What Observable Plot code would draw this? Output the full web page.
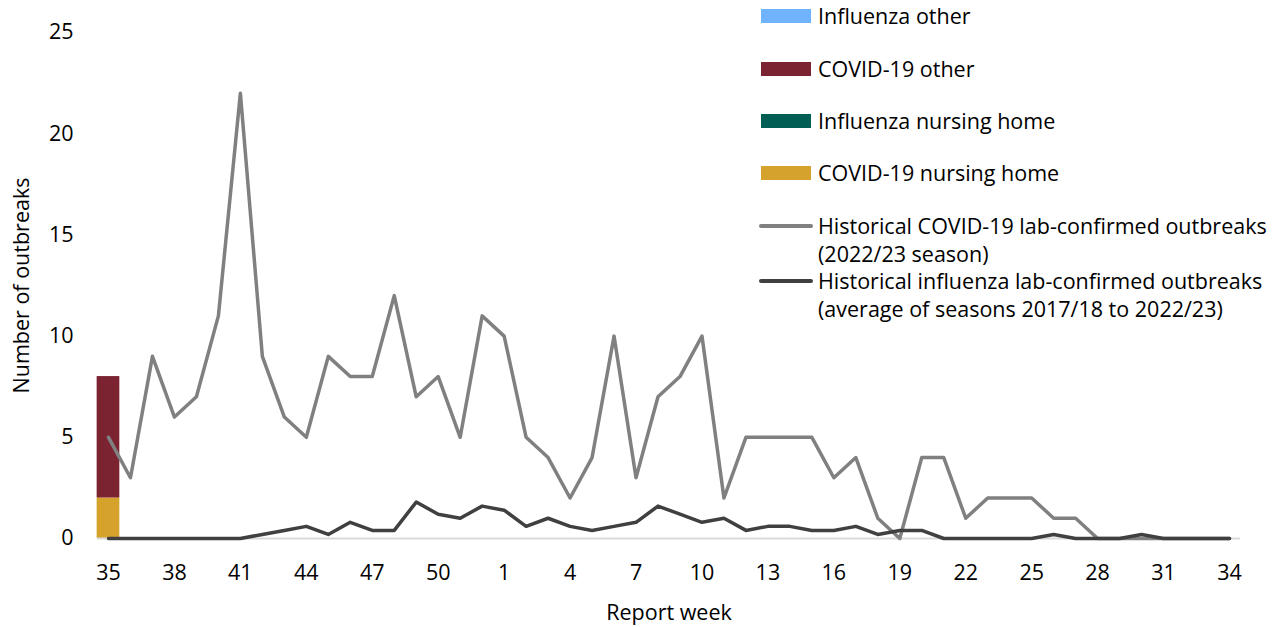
<!DOCTYPE html>
<html>
<head>
<meta charset="utf-8">
<script src="https://cdn.jsdelivr.net/npm/d3@7"></script>
<script src="https://cdn.jsdelivr.net/npm/@observablehq/plot@0.6"></script>
<style>
  body { margin: 0; background: #fff; font-family: "Open Sans", sans-serif; }
  #wrap { position: relative; width: 1279px; height: 627px; overflow: hidden; }
  #chart { position: absolute; left: 0; top: 0; }
  .sw { position: absolute; left: 761px; width: 50px; height: 14px; }
  .ln { position: absolute; left: 759px; width: 54px; height: 4px; border-radius: 2px; }
  .tx { position: absolute; left: 818px; font-size: 21.5px; line-height: 22px; height: 22px; color: #000; white-space: nowrap; }
</style>
</head>
<body>
<div id="wrap"><div id="chart"></div><div id="legend"></div></div>
<script>
// Report weeks (week 35 to week 34)
const weeks = [35,36,37,38,39,40,41,42,43,44,45,46,47,48,49,50,51,52,
  1,2,3,4,5,6,7,8,9,10,11,12,13,14,15,16,17,18,19,20,21,22,23,24,25,26,27,28,29,30,31,32,33,34];

// Historical COVID-19 lab-confirmed outbreaks (2022/23 season)
const covidHistoric = [5,3,9,6,7,11,22,9,6,5,9,8,8,12,7,8,5,11,
  10,5,4,2,4,10,3,7,8,10,2,5,5,5,5,3,4,1,0,4,4,1,2,2,2,1,1,0,0,0,0,0,0,0];

// Historical influenza lab-confirmed outbreaks (average of seasons 2017/18 to 2022/23)
const influenzaHistoric = [0,0,0,0,0,0,0,0.2,0.4,0.6,0.2,0.8,0.4,0.4,1.8,1.2,1.0,1.6,
  1.4,0.6,1.0,0.6,0.4,0.6,0.8,1.6,1.2,0.8,1.0,0.4,0.6,0.6,0.4,0.4,0.6,0.2,0.4,0.4,
  0,0,0,0,0,0.2,0,0,0,0.2,0,0,0,0];

// Current season bars (reported weeks so far)
const barWeeks = [35];
const covidNursingHome = [2];
const influenzaNursingHome = [0];
const covidOther = [6];
const influenzaOther = [0];

const barSeries = ["COVID-19 nursing home", "Influenza nursing home", "COVID-19 other", "Influenza other"];
const barColors = ["#d5a32b", "#005e55", "#7b2331", "#70b4ff"];
const lineSeries = [
  ["Historical COVID-19 lab-confirmed outbreaks", "(2022/23 season)"],
  ["Historical influenza lab-confirmed outbreaks", "(average of seasons 2017/18 to 2022/23)"]
];
const lineColors = ["#808080", "#404040"];
const yTicks = [0,5,10,15,20,25];
const xTitle = "Report week";
const yTitle = "Number of outbreaks";

const idx = w => weeks.indexOf(w);
const barValues = [covidNursingHome, influenzaNursingHome, covidOther, influenzaOther];
const bars = [];
barWeeks.forEach((w, k) => {
  barSeries.forEach((s, j) => bars.push({i: idx(w), series: s, value: barValues[j][k]}));
});
const covidLine = weeks.map((w, i) => ({i, value: covidHistoric[i]}));
const fluLine = weeks.map((w, i) => ({i, value: influenzaHistoric[i]}));
const xTicks = weeks.map((w, i) => i).filter(i => i % 3 === 0);

const chart = Plot.plot({
  width: 1279,
  height: 627,
  marginLeft: 97,
  marginRight: 39,
  marginTop: 32,
  marginBottom: 89,
  style: {fontFamily: "'Open Sans', sans-serif", fontSize: "21.5px", color: "#000", background: "#fff"},
  x: {type: "linear", domain: [-0.5, weeks.length - 0.5]},
  y: {domain: [0, 25]},
  color: {domain: barSeries, range: barColors},
  marks: [
    Plot.rectY(bars, {x1: d => d.i - 0.5, x2: d => d.i + 0.5, y: "value", fill: "series", insetLeft: -0.35, insetRight: -0.35}),
    Plot.ruleY([0], {stroke: "#d9d9d9", strokeWidth: 2}),
    Plot.line(covidLine, {x: "i", y: "value", stroke: lineColors[0], strokeWidth: 3.5}),
    Plot.line(fluLine, {x: "i", y: "value", stroke: lineColors[1], strokeWidth: 3.5}),
    Plot.axisX({ticks: xTicks, tickFormat: i => weeks[i], tickSize: 0, tickPadding: 26, label: null}),
    Plot.axisY({ticks: yTicks, tickSize: 0, tickPadding: 24, label: null}),
    Plot.text([xTitle], {text: d => d, frameAnchor: "bottom", lineAnchor: "middle", dy: 75, fill: "#000"}),
    Plot.text([yTitle], {text: d => d, frameAnchor: "left", textAnchor: "middle", lineAnchor: "middle", rotate: -90, dx: -75, fill: "#000"})
  ]
});
document.getElementById("chart").appendChild(chart);

// Legend
const lg = document.getElementById("legend");
const rowCenters = [16, 69, 121, 173];
barSeries.slice().reverse().forEach((s, k) => {
  const sw = document.createElement("div");
  sw.className = "sw";
  sw.style.background = barColors[barSeries.length - 1 - k];
  sw.style.top = (rowCenters[k] - 7) + "px";
  lg.appendChild(sw);
  const tx = document.createElement("div");
  tx.className = "tx";
  tx.style.top = (rowCenters[k] - 11) + "px";
  tx.textContent = s;
  lg.appendChild(tx);
});
const lineCenters = [[226, 254], [281, 309]];
lineSeries.forEach((lines, k) => {
  const ln = document.createElement("div");
  ln.className = "ln";
  ln.style.background = lineColors[k];
  ln.style.top = (lineCenters[k][0] - 2) + "px";
  lg.appendChild(ln);
  lines.forEach((t, j) => {
    const tx = document.createElement("div");
    tx.className = "tx";
    tx.style.top = (lineCenters[k][j] - 11) + "px";
    tx.textContent = t;
    lg.appendChild(tx);
  });
});
</script>
</body>
</html>
